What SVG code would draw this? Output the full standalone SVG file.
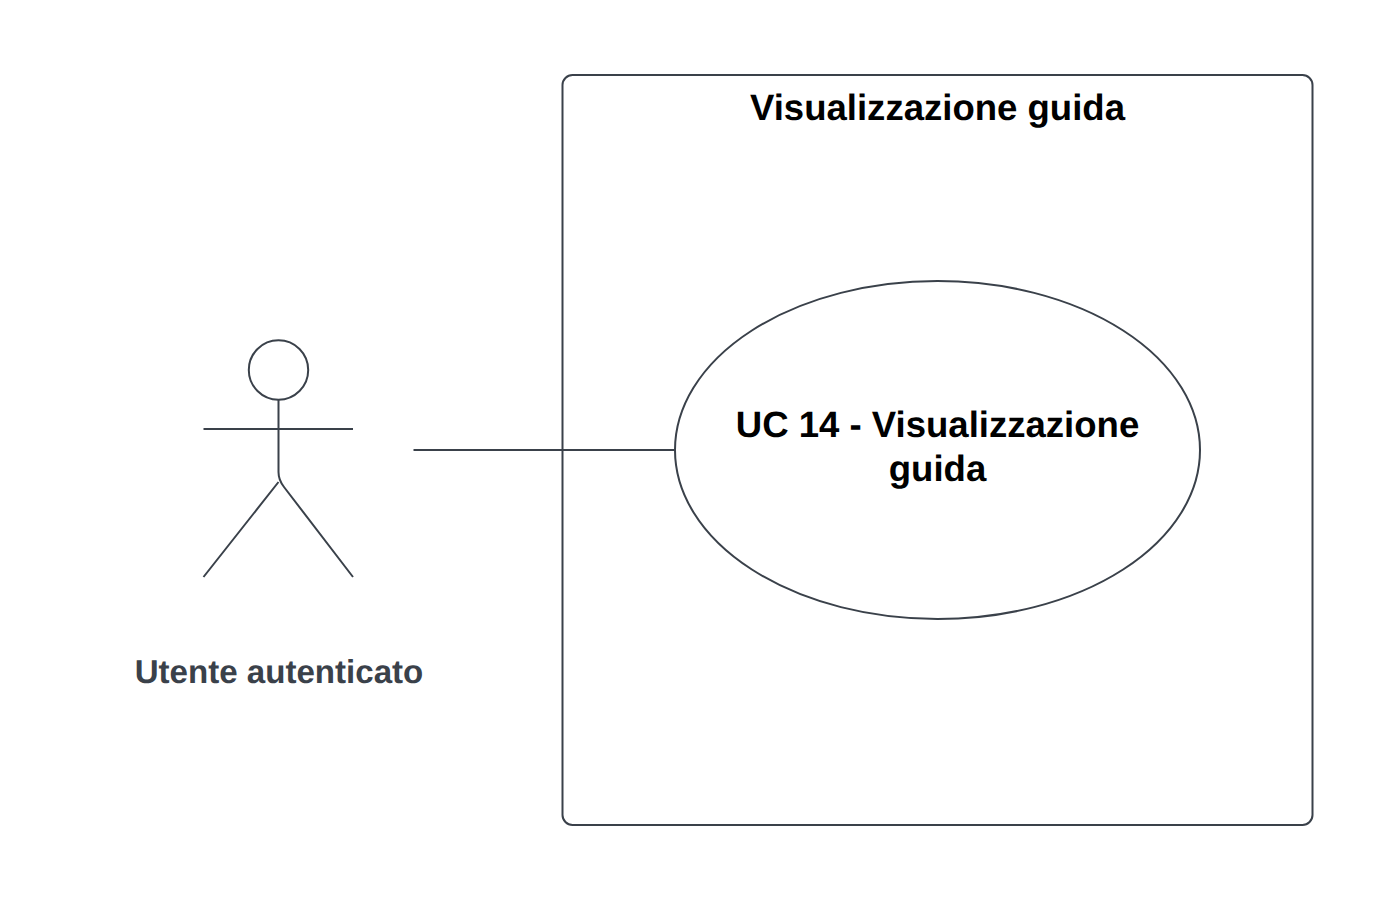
<svg xmlns="http://www.w3.org/2000/svg" width="1388" height="900" viewBox="0 0 1388 900">
<style>
.l{fill:none;stroke:#3a414a;stroke-width:2;stroke-linecap:butt}
text{font-family:"Liberation Sans",Arial,sans-serif;font-weight:700;text-anchor:middle;fill:#000;text-rendering:geometricPrecision}
</style>
<rect width="1388" height="900" fill="#fff"/>
<g id="system"><rect class="l" x="562.500" y="75" width="750" height="750" rx="10"/>
<text x="937.500" y="119.500" font-size="36.550">Visualizzazione guida</text></g>
<g id="actor"><circle class="l" cx="278.500" cy="370" r="29.700"/>
<path class="l" d="M278.500 400V472Q278.500 480 284 487L353 577M203.500 429H353M278.500 482L203.500 577"/>
<text x="279" y="683" font-size="33.100" style="fill:#3a414a">Utente autenticato</text></g>
<g id="usecase"><ellipse class="l" cx="937.500" cy="450" rx="262.500" ry="169"/>
<text x="937.500" y="437" font-size="36.550">UC 14 - Visualizzazione</text>
<text x="937.500" y="481" font-size="36.550">guida</text></g>
<g id="connectors"><path class="l" d="M413.500 450H675"/></g>
</svg>
